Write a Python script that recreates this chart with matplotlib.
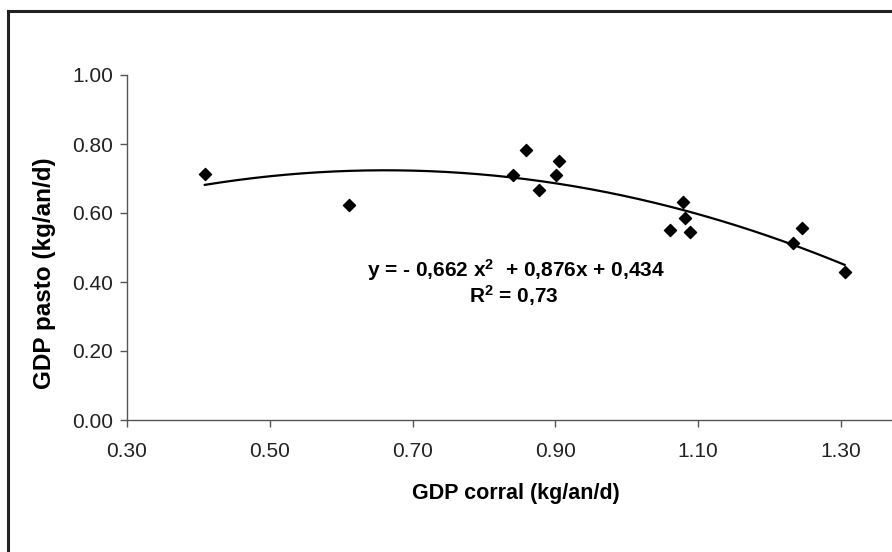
import numpy as np
import matplotlib
matplotlib.use("Agg")
import matplotlib.pyplot as plt
from matplotlib.lines import Line2D

plt.rcParams['font.family'] = ['Liberation Sans', 'DejaVu Sans']
plt.rcParams['mathtext.default'] = 'regular'

# GDP corral vs GDP pasto (kg/an/d)
gdp_corral = [0.409, 0.611, 0.859, 0.905, 0.840, 0.901, 0.877,
              1.079, 1.081, 1.061, 1.089, 1.246, 1.233, 1.305]
gdp_pasto = [0.712, 0.623, 0.782, 0.750, 0.709, 0.710, 0.666,
             0.631, 0.586, 0.551, 0.544, 0.556, 0.512, 0.428]

# polynomial trend shown on the chart
coef = [-0.662, 0.876, 0.434]
eq_text = "y = - 0,662 x$^{2}$  + 0,876x + 0,434"
r2_text = "R$^{2}$ = 0,73"

x_ticks = [0.30, 0.50, 0.70, 0.90, 1.10, 1.30]
y_ticks = [0.00, 0.20, 0.40, 0.60, 0.80, 1.00]

fig = plt.figure(figsize=(8.92, 5.52), dpi=100)
ax = fig.add_axes([127 / 892, 1 - 420 / 552, 1 - 127 / 892, (420 - 75) / 552])

# frame around the whole chart (cropped at right and bottom)
fig.add_artist(Line2D([7.5 / 892, 7.5 / 892], [0, 1 - 11 / 552], transform=fig.transFigure,
                      color='#222222', linewidth=2.2, solid_capstyle='projecting'))
fig.add_artist(Line2D([7.5 / 892, 1], [1 - 11 / 552, 1 - 11 / 552], transform=fig.transFigure,
                      color='#222222', linewidth=2.2, solid_capstyle='projecting'))

ax.scatter(gdp_corral, gdp_pasto, marker='D', s=38, color='black', zorder=3)

xs = np.linspace(min(gdp_corral), max(gdp_corral), 200)
ax.plot(xs, np.polyval(coef, xs), color='black', linewidth=1.6)

ax.set_xlim(0.30, 0.30 + (892 - 127) / 714)
ax.set_ylim(0, 1.0)
ax.set_xticks(x_ticks)
ax.set_xticklabels([f"{v:.2f}" for v in x_ticks])
ax.set_yticks(y_ticks)
ax.set_yticklabels([f"{v:.2f}" for v in y_ticks])

for side in ['top', 'right']:
    ax.spines[side].set_visible(False)
for side in ['left', 'bottom']:
    ax.spines[side].set_color('#555555')
    ax.spines[side].set_linewidth(1.0)
ax.tick_params(axis='x', direction='out', length=5, width=1, color='#555555',
               labelsize=15, pad=11, labelcolor='#222222')
ax.tick_params(axis='y', direction='out', length=5, width=1, color='#555555',
               labelsize=15, pad=5, labelcolor='#222222')

ax.set_xlabel("GDP corral (kg/an/d)", fontsize=15.5, fontweight='bold')
ax.set_ylabel("GDP pasto (kg/an/d)", fontsize=17.5, fontweight='bold')
ax.xaxis.set_label_coords((516 - 127) / 765, (420 - 493) / 345)
ax.yaxis.set_label_coords((45 - 127) / 765, (420 - 273) / 345)
ax.xaxis.label.set_va('center')
ax.yaxis.label.set_va('center')

ax.text(0.30 + (516 - 127) / 714, (420 - 270) / 345, eq_text, fontsize=15,
        fontweight='bold', ha='center', va='center')
ax.text(0.30 + (514 - 127) / 714, (420 - 296) / 345, r2_text, fontsize=15,
        fontweight='bold', ha='center', va='center')

fig.savefig("out.png", dpi=100)
